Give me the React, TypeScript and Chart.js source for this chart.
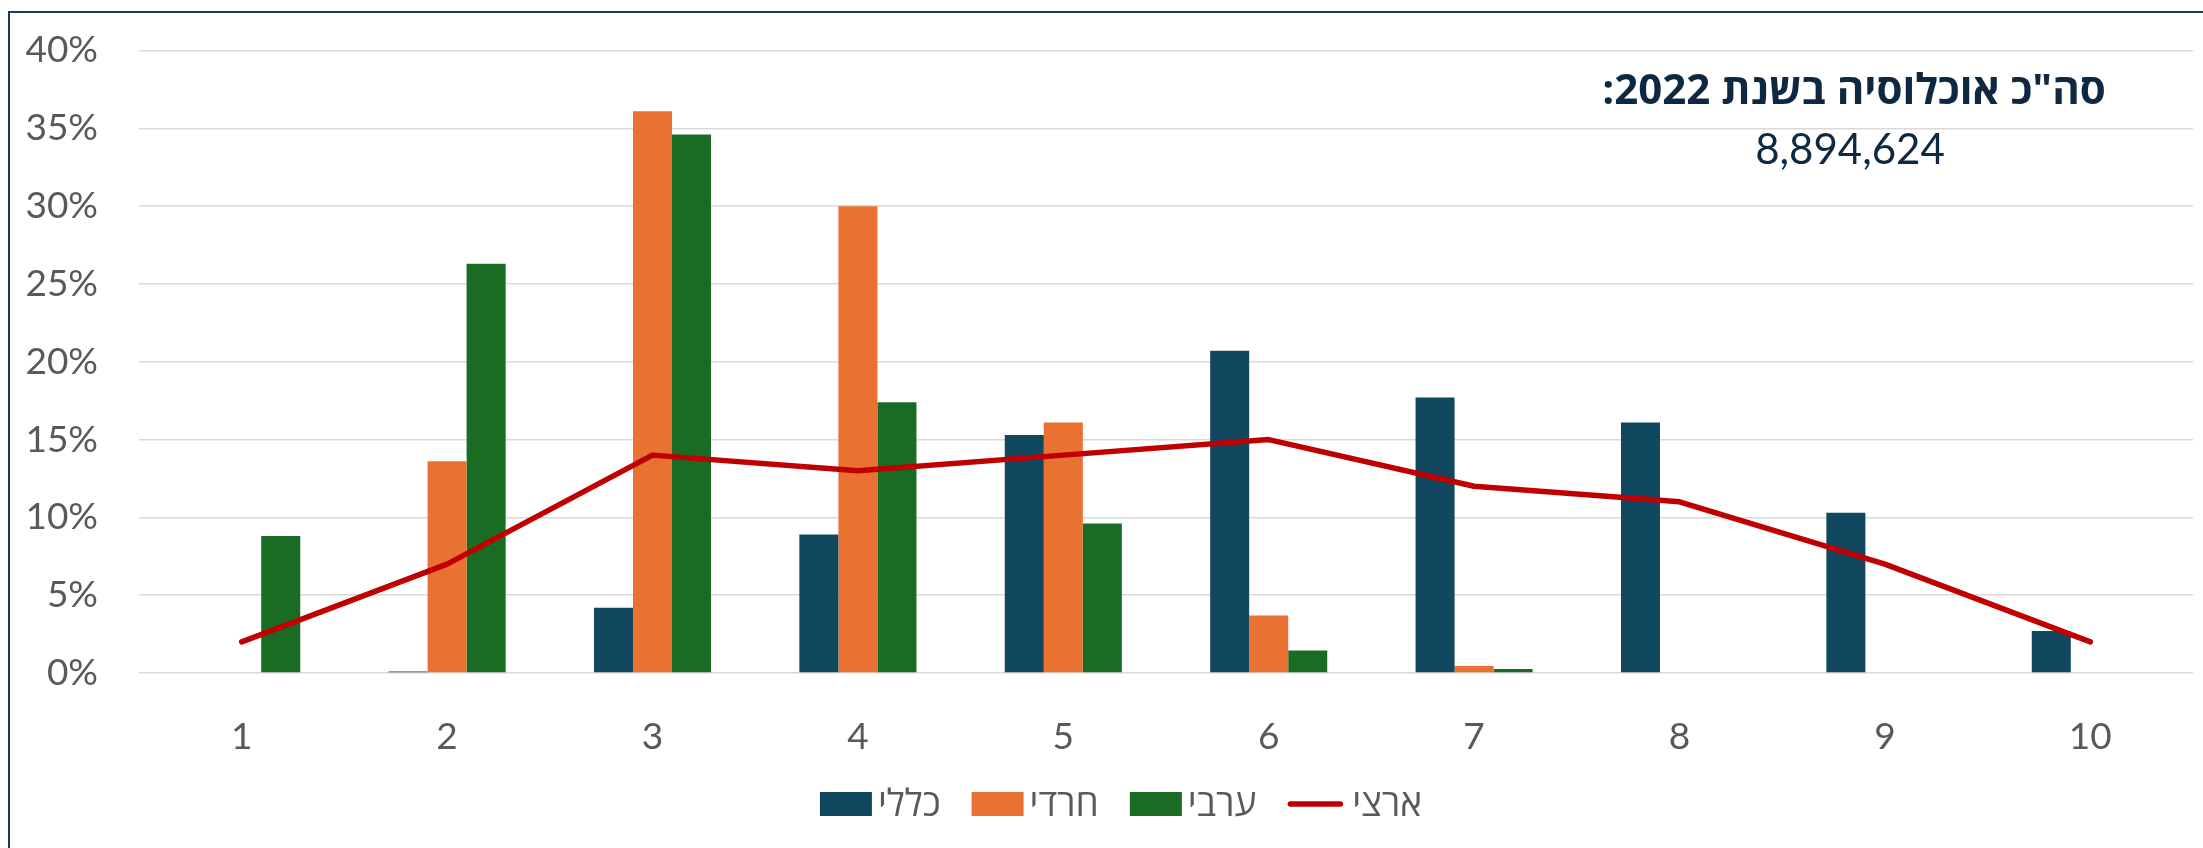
import React, { useEffect, useRef } from 'react';
import { Chart, registerables } from 'chart.js';

Chart.register(...registerables);

// ---------- data ----------
const categories = ['1', '2', '3', '4', '5', '6', '7', '8', '9', '10'];
const generalValues = [0, 0.1, 4.2, 8.9, 15.3, 20.7, 17.7, 16.1, 10.3, 2.7];
const harediValues = [0, 13.6, 36.1, 30.0, 16.1, 3.7, 0.45, 0, 0, 0];
const arabValues = [8.8, 26.3, 34.6, 17.4, 9.6, 1.45, 0.25, 0, 0, 0];
const nationalValues = [2, 7, 14, 13, 14, 15, 12, 11, 7, 2];
const seriesNames = ['כללי', 'חרדי', 'ערבי', 'ארצי'];
const seriesColors = ['#11475F', '#E97132', '#1A6B24', '#C00000'];
const yMin = 0;
const yMax = 40;
const yStep = 5;
const annotationTitle = 'סה"כ אוכלוסיה בשנת 2022:';
const annotationValue = '8,894,624';

const TEXT_GRAY = '#595959';
const NAVY = '#0E2841';
const LATIN_FONT = 'Lato, "Open Sans", "DejaVu Sans", sans-serif';
const HEB_FONT = '"Open Sans", "DejaVu Sans", "Liberation Sans", sans-serif';

const overlayPlugin = {
  id: 'overlay',
  afterDraw(chart: any) {
    const ctx = chart.ctx as CanvasRenderingContext2D;
    const area = chart.chartArea;
    ctx.save();

    // ---- annotation ----
    const annX = area.right - 339;
    ctx.textAlign = 'center';
    ctx.textBaseline = 'middle';
    ctx.fillStyle = NAVY;
    (ctx as any).direction = 'rtl';
    ctx.font = `bold 42px ${HEB_FONT}`;
    ctx.fillText(annotationTitle, annX, area.top + 42);
    (ctx as any).direction = 'ltr';
    ctx.font = `42px ${LATIN_FONT}`;
    ctx.fillText(annotationValue, annX - 4, area.top + 100);

    // ---- legend ----
    ctx.font = `37px ${HEB_FONT}`;
    const boxW = 52;
    const boxH = 24;
    const lineW = 56;
    const gapBox = 6;
    const gapLine = 9;
    const spacing = 31;
    const widths = seriesNames.map((n) => ctx.measureText(n).width);
    let total = 0;
    seriesNames.forEach((_, i) => {
      const sw = i === 3 ? lineW + gapLine : boxW + gapBox;
      total += sw + widths[i] + (i < seriesNames.length - 1 ? spacing : 0);
    });
    const legendCenter = 1111;
    const yc = 791;
    let x = legendCenter - total / 2;
    ctx.textAlign = 'left';
    ctx.textBaseline = 'middle';
    seriesNames.forEach((name, i) => {
      if (i === 3) {
        ctx.strokeStyle = seriesColors[3];
        ctx.lineWidth = 5.5;
        ctx.lineCap = 'round';
        ctx.beginPath();
        ctx.moveTo(x + 3, yc);
        ctx.lineTo(x + lineW - 3, yc);
        ctx.stroke();
        x += lineW + gapLine;
      } else {
        ctx.fillStyle = seriesColors[i];
        ctx.fillRect(x, yc - boxH / 2, boxW, boxH);
        x += boxW + gapBox;
      }
      ctx.fillStyle = TEXT_GRAY;
      ctx.fillText(name, x, yc + 1);
      x += widths[i] + spacing;
    });

    ctx.restore();
  },
};

export default function App() {
  const canvasRef = useRef<HTMLCanvasElement | null>(null);

  useEffect(() => {
    if (!canvasRef.current) return;
    const chart = new Chart(canvasRef.current, {
      type: 'bar',
      data: {
        labels: categories,
        datasets: [
          {
            type: 'line',
            label: seriesNames[3],
            data: nationalValues,
            borderColor: seriesColors[3],
            backgroundColor: seriesColors[3],
            borderWidth: 5.5,
            pointRadius: 0,
            pointHoverRadius: 0,
            tension: 0,
            borderCapStyle: 'round',
            borderJoinStyle: 'round',
            order: 0,
          } as any,
          {
            type: 'bar',
            label: seriesNames[0],
            data: generalValues,
            backgroundColor: seriesColors[0],
            order: 1,
          },
          {
            type: 'bar',
            label: seriesNames[1],
            data: harediValues,
            backgroundColor: seriesColors[1],
            order: 1,
          },
          {
            type: 'bar',
            label: seriesNames[2],
            data: arabValues,
            backgroundColor: seriesColors[2],
            order: 1,
          },
        ],
      },
      options: {
        responsive: false,
        animation: false,
        layout: { padding: { top: 37.5, right: 10, left: 0, bottom: 0 } },
        datasets: { bar: { categoryPercentage: 0.57, barPercentage: 1 } } as any,
        plugins: {
          legend: { display: false },
          tooltip: { enabled: false },
        },
        scales: {
          x: {
            offset: true,
            grid: { display: false },
            border: { display: false },
            ticks: {
              color: TEXT_GRAY,
              font: { family: LATIN_FONT, size: 37 },
              padding: 34,
              maxRotation: 0,
              autoSkip: false,
            },
            afterFit: (s: any) => {
              s.height = 175;
              s.paddingLeft = 0;
              s.paddingRight = 0;
            },
          },
          y: {
            min: yMin,
            max: yMax,
            grid: { color: '#D9D9D9', lineWidth: 1.5, drawTicks: false },
            border: { display: false },
            ticks: {
              stepSize: yStep,
              color: TEXT_GRAY,
              font: { family: LATIN_FONT, size: 37 },
              padding: 41,
              callback: (v: any) => `${v}%`,
            },
            afterFit: (s: any) => {
              s.width = 129;
              s.paddingTop = 0;
              s.paddingBottom = 0;
            },
          },
        },
      },
      plugins: [overlayPlugin],
    });
    return () => chart.destroy();
  }, []);

  return (
    <div
      style={{
        position: 'fixed',
        left: 8,
        top: 11,
        width: 2195,
        height: 845,
        boxSizing: 'border-box',
        borderLeft: '2px solid #1F3A5C',
        borderTop: '2px solid #1F3A5C',
        background: '#fff',
      }}
    >
      <canvas
        ref={canvasRef}
        width={2193}
        height={835}
        style={{ display: 'block', width: 2193, height: 835 }}
      />
    </div>
  );
}
